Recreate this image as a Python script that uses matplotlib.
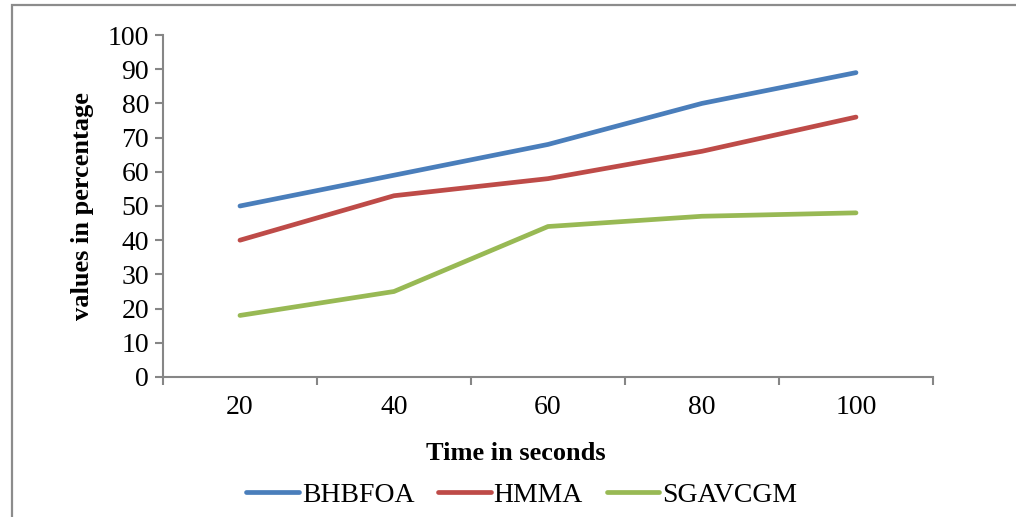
import numpy as np
import matplotlib
matplotlib.use('Agg')
import matplotlib.pyplot as plt
from matplotlib.patches import Rectangle

# data
time_labels = ['20', '40', '60', '80', '100']
bhbfoa = [50, 59, 68, 80, 89]
hmma = [40, 53, 58, 66, 76]
sgavcgm = [18, 25, 44, 47, 48]

plt.rcParams['font.family'] = ['Liberation Serif', 'DejaVu Serif']

fig = plt.figure(figsize=(10.16, 5.17), dpi=100)
ax = fig.add_axes([0.1604, 0.2708, 0.7579, 0.6615])

# outer chart border (left and top visible)
fig.patches.append(Rectangle((12/1016, -0.05), 1.1, 1 - 5/517 + 0.05, transform=fig.transFigure,
                             fill=False, edgecolor='#8c8c8c', linewidth=1.6))

x = np.arange(1, len(time_labels) + 1)
ax.plot(x, bhbfoa, color='#4A7EBB', lw=3.4, solid_capstyle='round', label='BHBFOA')
ax.plot(x, hmma, color='#BE4B48', lw=3.4, solid_capstyle='round', label='HMMA')
ax.plot(x, sgavcgm, color='#98B954', lw=3.4, solid_capstyle='round', label='SGAVCGM')

ax.set_xlim(0.5, len(time_labels) + 0.5)
ax.set_ylim(0, 100)
ax.set_yticks(range(0, 101, 10))
ax.set_xticks(np.arange(0.5, len(time_labels) + 1, 1))
ax.set_xticklabels([])
ax.set_xticks(x, minor=True)
ax.set_xticklabels(time_labels, minor=True)
ax.tick_params(axis='x', which='minor', length=0, pad=13, labelsize=20)
ax.tick_params(axis='x', which='major', length=6, width=1.5, color='#868686', direction='out')
ax.tick_params(axis='y', length=6, width=1.5, color='#868686', direction='out', labelsize=20, pad=4)

for s in ['top', 'right']:
    ax.spines[s].set_visible(False)
for s in ['left', 'bottom']:
    ax.spines[s].set_color('#868686')
    ax.spines[s].set_linewidth(1.5)

ax.set_xlabel('Time in seconds', fontsize=19, fontweight='bold')
ax.xaxis.set_label_coords(0.458, -0.19)
ax.set_ylabel('values in percentage', fontsize=19, fontweight='bold', labelpad=10)

ax.legend(loc='center', bbox_to_anchor=(0.466, -0.345), ncol=3, frameon=False, fontsize=20,
          handlelength=1.9, handletextpad=0.1, columnspacing=0.85)

plt.savefig('out.png', dpi=100)
